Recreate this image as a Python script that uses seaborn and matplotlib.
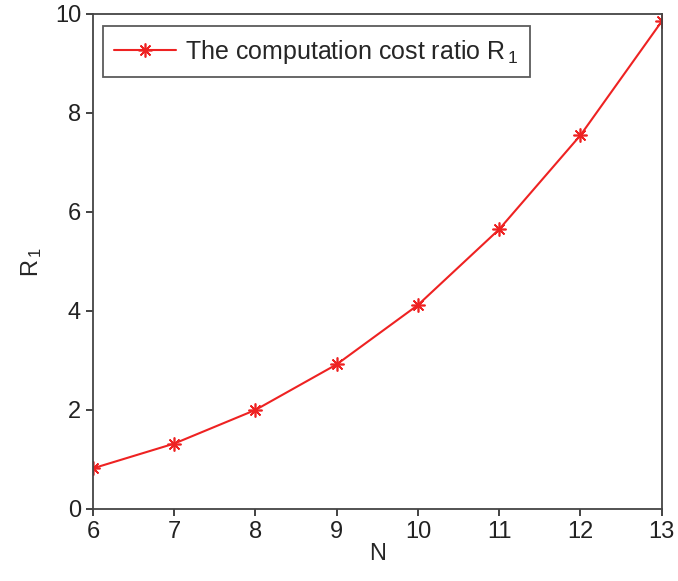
import matplotlib
matplotlib.use("Agg")
import matplotlib.pyplot as plt
import seaborn as sns
import pandas as pd

N = [6, 7, 8, 9, 10, 11, 12, 13]
R1 = [0.82, 1.32, 2.0, 2.92, 4.12, 5.65, 7.55, 9.85]
series_label = "The computation cost ratio R$_{\\,1}$"

sns.set_style("white")
plt.rcParams['font.family'] = ['Liberation Sans', 'DejaVu Sans']
plt.rcParams['mathtext.default'] = 'regular'

df = pd.DataFrame({"N": N, "R1": R1})

fig = plt.figure(figsize=(6.78, 5.81), dpi=100)
ax = fig.add_axes([0.137, 0.124, 0.839, 0.852])
sns.lineplot(data=df, x="N", y="R1", ax=ax, color="#ee2222", linewidth=1.5,
             marker=(8, 2, 0), markersize=10, markeredgewidth=1.2,
             markeredgecolor="#ee2222", label=series_label)

ax.set_xlim(6, 13)
ax.set_ylim(0, 10)
ax.set_xticks(N)
ax.set_yticks([0, 2, 4, 6, 8, 10])
ax.tick_params(axis='both', which='major', direction='out', length=5, width=1.2,
               labelsize=17, colors='#222222', bottom=True, left=True, top=False, right=False)
for s in ax.spines.values():
    s.set_color('#444444')
    s.set_linewidth(1.3)
ax.set_xlabel("N", fontsize=17, labelpad=0)
ax.set_ylabel("R$_{\\,1}$", fontsize=17, labelpad=8)

leg = ax.legend(loc='upper left', fontsize=18, frameon=True, fancybox=False,
                edgecolor='#333333', handlelength=2.5, handletextpad=0.35,
                borderpad=0.45, bbox_to_anchor=(-0.005, 1.0))
leg.get_frame().set_linewidth(1.3)

fig.savefig("out.png", dpi=100)
